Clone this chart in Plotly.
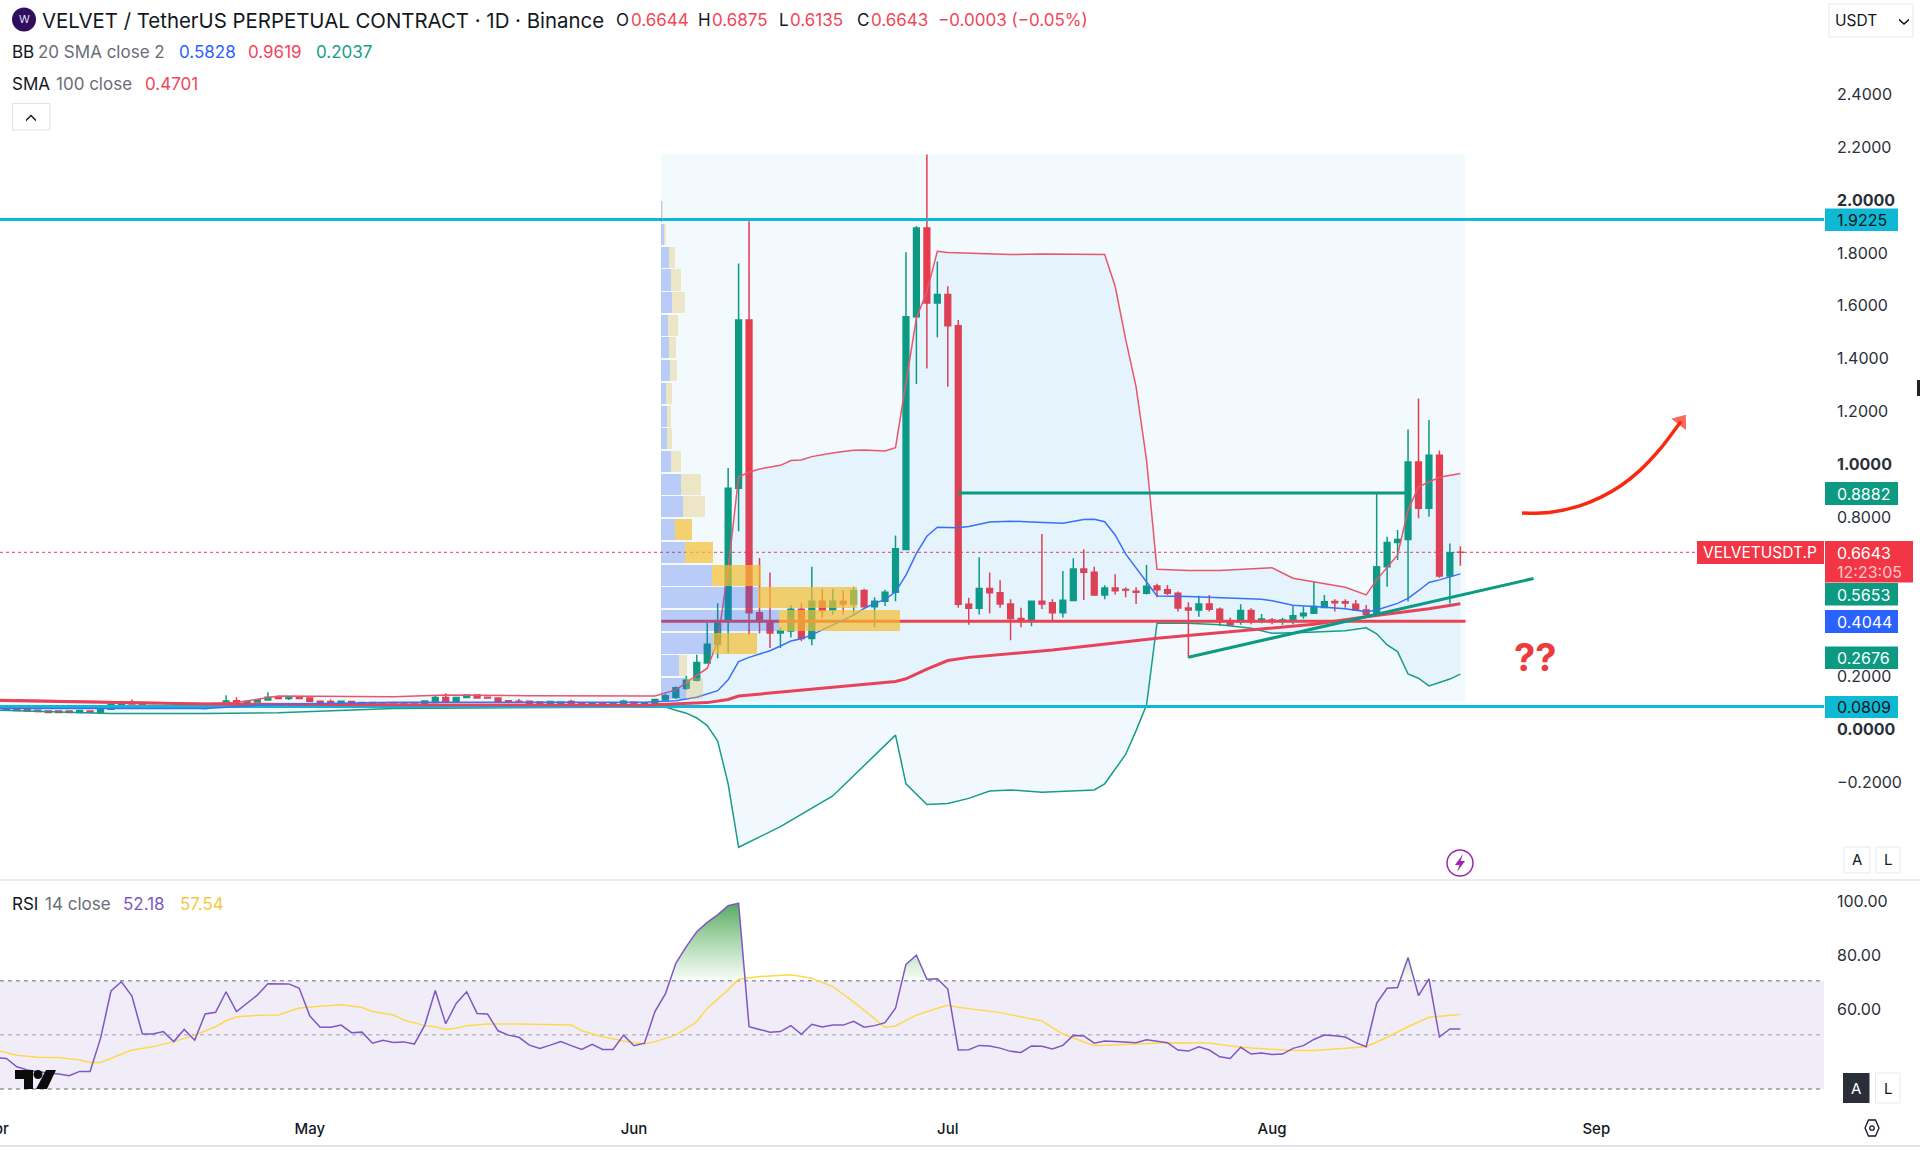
import numpy as np
import pandas as pd
import plotly.graph_objects as go

W, H = 1920, 1151
BASE = pd.Timestamp("2025-06-01")

# ---------- candles, one per day from 61 days before 1 Jun ----------
first_day = -61
opens = [.070,.072,.071,.069,.067,.064,.064,.064,.059,.064,
 .059,.071,.086,.096,.093,.085,.083,.084,.082,.084,
 .074,.083,.085,.103,.091,.098,.106,.116,.112,.116,
 .113,.101,.100,.095,.100,.091,.096,.088,.091,.087,
 .091,.090,.096,.115,.100,.115,.125,.116,.113,.103,
 .101,.101,.098,.091,.092,.100,.095,.091,.095,.090,
 .090,.097,.092,.089,
 .106,.116,.150,.181,.246,.317,.407,.906,1.543,.436,
 .403,.359,.367,.449,.338,.479,.446,.479,.469,.520,
 .458,.479,.513,.675,1.555,1.890,1.607,1.639,1.521,.468,
 .453,.527,.511,.469,.414,.407,.479,.474,.436,.482,
 .601,.589,.503,.529,.524,.517,.509,.537,.523,.509,
 .454,.446,.469,.449,.402,.402,.444,.406,.408,.406,
 .406,.424,.434,.456,.478,.477,.468,.446,.430,.610,
 .701,.713,1.006,.831,1.031,.575,.6644]
highs = [.072,.073,.072,.071,.069,.066,.066,.066,.067,.066,
 .073,.092,.103,.108,.096,.088,.086,.087,.086,.087,
 .090,.092,.124,.116,.102,.109,.135,.118,.119,.118,
 .115,.104,.108,.104,.102,.098,.098,.093,.094,.093,
 .094,.105,.124,.131,.117,.128,.127,.119,.115,.106,
 .110,.104,.100,.102,.101,.107,.097,.097,.097,.095,
 .107,.100,.097,.110,
 .129,.157,.197,.277,.397,.472,.983,1.756,1.916,.643,
 .588,.381,.465,.472,.610,.526,.526,.520,.534,.526,
 .494,.523,.728,1.799,1.898,2.168,1.764,1.670,1.543,.492,
 .646,.588,.559,.487,.455,.482,.733,.487,.594,.642,
 .676,.610,.540,.581,.532,.532,.616,.545,.541,.516,
 .475,.500,.503,.456,.417,.468,.453,.431,.416,.417,
 .461,.459,.556,.503,.487,.487,.484,.465,.887,.723,
 .749,1.129,1.246,1.164,1.049,.698,.6875]
lows = [.064,.066,.065,.063,.061,.058,.058,.058,.057,.058,
 .058,.069,.084,.088,.084,.082,.081,.080,.080,.081,
 .073,.081,.083,.090,.089,.097,.104,.112,.106,.111,
 .098,.093,.094,.093,.092,.089,.090,.086,.089,.086,
 .089,.088,.094,.098,.098,.113,.112,.112,.100,.100,
 .097,.090,.089,.089,.090,.089,.090,.089,.090,.088,
 .088,.090,.090,.087,
 .103,.110,.144,.176,.244,.264,.284,.744,.352,.357,
 .302,.302,.342,.328,.313,.417,.429,.429,.429,.455,
 .381,.461,.479,.675,1.301,1.359,1.477,1.290,.455,.390,
 .429,.433,.455,.332,.381,.385,.450,.408,.418,.482,
 .484,.499,.487,.505,.494,.469,.505,.494,.503,.440,
 .266,.421,.440,.386,.387,.390,.392,.396,.392,.390,
 .392,.413,.434,.456,.440,.455,.444,.424,.427,.534,
 .635,.478,.793,.799,.568,.471,.6135]
closes = [.067,.067,.066,.064,.062,.059,.059,.059,.066,.059,
 .071,.090,.093,.091,.085,.083,.084,.082,.084,.082,
 .087,.091,.102,.093,.100,.107,.116,.112,.116,.112,
 .100,.095,.095,.101,.093,.096,.091,.091,.090,.091,
 .090,.102,.115,.100,.115,.125,.113,.113,.101,.101,
 .098,.091,.091,.100,.098,.091,.091,.095,.091,.093,
 .101,.092,.095,.108,
 .122,.152,.181,.248,.317,.397,.906,1.543,.436,.403,
 .359,.367,.449,.338,.479,.443,.479,.469,.520,.458,
 .479,.513,.678,1.555,1.890,1.607,1.639,1.521,.468,.453,
 .527,.511,.469,.414,.407,.479,.469,.436,.483,.601,
 .589,.503,.529,.519,.522,.513,.536,.523,.509,.454,
 .446,.469,.449,.402,.390,.444,.402,.412,.403,.408,
 .424,.434,.459,.477,.474,.473,.446,.430,.610,.701,
 .713,1.006,.831,1.031,.575,.663,.6643]

rsi_values = [41.6,41.3,38.2,37.0,36.4,36.0,35.5,34.9,36.5,36.5,48.7,66.2,69.6,64.3,50.3,50.3,51.2,47.5,52.0,48.0,
 57.7,58.3,65.9,58.6,61.6,64.7,68.9,68.9,68.8,67.2,57.0,52.8,52.8,53.6,50.8,51.0,46.9,48.0,47.2,47.4,
 46.6,53.6,66.4,54.1,61.6,65.9,57.9,57.7,51.5,49.9,49.1,46.2,45.0,46.2,47.5,46.0,44.6,46.5,44.6,44.6,
 49.9,46.0,46.9,58.6,65.1,76.4,82.6,88.1,91.5,94.3,97.7,98.6,53.0,52.0,51.0,51.2,53.4,50.2,53.9,52.9,
 53.6,53.6,55.0,52.8,53.4,54.5,59.8,76.0,79.4,70.5,70.7,66.9,44.4,
 44.5,46.1,45.9,45.1,43.9,43.5,45.9,45.8,44.8,46.1,49.8,49.6,46.9,47.7,47.5,47.4,47.1,48.2,47.7,47.1,
 44.4,44.0,45.6,44.4,41.9,41.3,45.4,42.9,43.3,42.7,42.9,45.0,46.0,48.3,49.9,49.7,49.2,47.1,45.6,61.6,
 67.2,67.5,78.6,64.5,70.7,49.2,52.2,52.18]

# ---------- indicator vertices: day offset from 1 Jun, value ----------
rsi_ma_days = [-61,-59,-57,-55,-53,-52,-51,-50,-48,-46,-44,-42,-40,-39,-38,-36,-34,-33,-32,-30,-28,-26,-25,-23,-22,-20,-19,-18,-17,-16,-14,-11,-6,-5,-3,-1,1,2,4,6,7,9,10,12,15,17,19,21,23,24,25,27,29,30,31,35,39,41,44,49,51,55,57,59,63,65,70,72,74,76,79]
rsi_ma_vals = [44.4,42.5,41.7,41.6,40.7,39.8,39.8,41.3,44.4,45.6,47.5,49.9,53.0,55.2,56.7,57.2,57.3,58.6,59.9,60.6,61.1,60.1,58.6,57.3,55.5,53.4,53.0,52.0,52.4,53.4,54.0,54.0,53.6,51.5,49.3,47.7,46.6,47.5,49.9,54.9,59.8,66.6,70.5,71.5,72.2,70.9,67.8,62.2,56.1,52.8,53.3,57.3,59.8,60.9,60.2,58.2,55.1,50.3,46.0,46.6,47.1,47.0,45.9,45.1,44.2,44.2,45.6,49.1,53.0,56.5,57.54]

bb_upper_days = [-61,-41,-38,-34,-23,-18,-10,1,2,4,6,7,8,9,10,11,12,13,14,15,16,17,18,19,20,21,22,23,24,25,26,27,28,29,30,33,36,39,45,46,47,48,49,50,53,56,61,63,68,70,71,73,74,75,76,77,79]
bb_upper_vals = [.108,.093,.096,.121,.118,.125,.122,.121,.121,.144,.200,.226,.328,.600,.950,.967,.979,.986,.993,1.011,1.013,1.026,1.034,1.040,1.045,1.050,1.051,1.050,1.047,1.060,1.297,1.550,1.650,1.802,1.798,1.793,1.790,1.792,1.790,1.670,1.470,1.290,1.013,.600,.595,.595,.606,.566,.532,.503,.560,.654,.824,.912,.931,.948,.9619]
bb_basis_days = [-61,-41,-34,-23,1,4,6,8,9,10,11,12,13,14,15,16,17,18,21,22,23,24,25,26,27,28,29,31,32,34,36,38,41,43,44,45,46,47,48,49,50,53,56,60,61,63,65,68,70,71,73,74,75,76,77,79]
bb_basis_vals = [.074,.074,.090,.097,.097,.103,.116,.141,.182,.251,.267,.280,.292,.310,.329,.337,.352,.371,.427,.452,.471,.486,.515,.578,.660,.725,.759,.757,.762,.779,.782,.779,.774,.788,.789,.780,.730,.658,.604,.553,.499,.497,.493,.487,.481,.464,.459,.451,.440,.446,.471,.490,.519,.550,.560,.5828]
bb_lower_days = [-61,-50,-41,-34,-23,2,3,4,5,6,7,8,9,10,14,19,25,26,27,28,30,32,34,36,39,42,44,45,47,48,49,50,53,56,59,61,64,68,70,71,72,73,74,75,76,77,78,79]
bb_lower_vals = [.068,.055,.055,.058,.074,.080,.079,.067,.056,.038,.009,-.049,-.211,-.451,-.373,-.257,-.027,-.211,-.250,-.289,-.285,-.266,-.238,-.234,-.243,-.238,-.234,-.211,-.100,-.010,.087,.396,.396,.390,.377,.358,.361,.368,.379,.356,.314,.289,.204,.188,.159,.172,.185,.2037]
sma_days = [-61,-41,-18,1,7,9,10,25,26,28,30,32,40,50,65,70,76,79]
sma_vals = [.104,.091,.087,.086,.096,.108,.121,.176,.186,.223,.255,.267,.295,.339,.392,.421,.451,.4701]

# ---------- drawn levels and tools ----------
level_high, level_low = 1.9225, 0.0809
res_level, res_days = 0.8882, [31, 74]
trend_days, trend_vals = [53, 86], [0.2676, 0.5653]
poc_level, profile_days = 0.4034, [2.6, 79.5]
box_top, box_bottom = 2.168, 0.0994
last_price = 0.6643
arrow_days = [84.9, 87.5, 90.4, 92.4, 94.3, 96.2, 98.1, 100.1]
arrow_vals = [.8125, .815, .840, .872, .915, .975, 1.055, 1.160]

# ---------- volume profile, bottom row first ----------
row_prices = [.149,.235,.321,.407,.492,.578,.664,.750,.836,.922,1.007,1.093,1.179,1.265,1.351,1.437,1.523,1.608,1.694,1.780,1.866,1.952]
row_buy = [24.7,18.3,52.3,118,97,51,24,14,22,20.3,9.7,5.7,5.7,5,9,8,7.3,11.3,10.3,8.3,2.7,1]
row_sell = [17,8,44,120.7,99.3,49,27.7,17,21.7,19.7,10.7,5.3,4.7,6,7.3,7,9.7,13,9.3,5.3,2.3,.5]
value_area = [False,False,True,True,True,True,True,True,False,False,False,False,False,False,False,False,False,False,False,False,False,False]

price_ticks = [2.4,2.2,2.0,1.8,1.6,1.4,1.2,1.0,.8,.6,.4,.2,0.0,-.2]
price_labels = ["2.4000","2.2000","<b>2.0000</b>","1.8000","1.6000","1.4000","1.2000","<b>1.0000</b>","0.8000","","","0.2000","<b>0.0000</b>","−0.2000"]
rsi_ticks = [100, 80, 60]
rsi_labels = ["100.00", "80.00", "60.00"]
month_dates = ["2025-04-01","2025-05-01","2025-06-01","2025-07-01","2025-08-01","2025-09-01"]
month_labels = ["Apr","May","Jun","Jul","Aug","Sep"]

GREEN, RED, BLUE, CYAN = "#0c9a82", "#e83c4e", "#2962ff", "#0fb9d4"
FONT = "Inter"
INK = "#131722"

def to_dates(days):
    return [BASE + pd.Timedelta(days=float(d)) for d in days]

candle_days = np.arange(first_day, first_day + len(closes))
assert len(opens) == len(highs) == len(lows) == len(closes) == len(rsi_values) == 141
dates = to_dates(candle_days)

PANE_R = 1824
x_range = to_dates([-634 / 10.46, (PANE_R - 634) / 10.46])
range_all = x_range

fig = go.Figure()

# Bollinger fill and lines
fig.add_trace(go.Scatter(x=to_dates(bb_lower_days), y=bb_lower_vals, mode="lines", line=dict(color="#169c88", width=1.5)))
fig.add_trace(go.Scatter(x=to_dates(bb_upper_days), y=bb_upper_vals, mode="lines", line=dict(color="#e9566a", width=1.5),
                         fill="tonexty", fillcolor="rgba(33,150,243,0.06)"))
# horizontal levels
for lv in (level_high, level_low):
    fig.add_trace(go.Scatter(x=range_all, y=[lv, lv], mode="lines", line=dict(color=CYAN, width=3)))
fig.add_trace(go.Scatter(x=to_dates(profile_days), y=[poc_level, poc_level], mode="lines", line=dict(color="#e8434f", width=3)))
fig.add_trace(go.Scatter(x=to_dates(sma_days), y=sma_vals, mode="lines", line=dict(color="#e8415a", width=3)))
fig.add_trace(go.Scatter(x=to_dates(bb_basis_days), y=bb_basis_vals, mode="lines", line=dict(color="#3a70f5", width=1.5)))
# candles
fig.add_trace(go.Candlestick(x=dates, open=opens, high=highs, low=lows, close=closes,
                             increasing=dict(line=dict(color=GREEN, width=1.5), fillcolor=GREEN),
                             decreasing=dict(line=dict(color=RED, width=1.5), fillcolor=RED),
                             whiskerwidth=0))
# tools
fig.add_trace(go.Scatter(x=to_dates(res_days), y=[res_level, res_level], mode="lines", line=dict(color=GREEN, width=3)))
fig.add_trace(go.Scatter(x=to_dates(trend_days), y=trend_vals, mode="lines", line=dict(color=GREEN, width=3)))
fig.add_trace(go.Scatter(x=to_dates(arrow_days), y=arrow_vals, mode="lines+markers", line=dict(color="#f72a10", width=3.5, shape="spline", smoothing=0.8),
                         marker=dict(symbol="triangle-up", angleref="previous", color="#f72a10",
                                     size=[0]*7 + [16], line=dict(width=0))))
# volume profile on an overlaying value axis
sell_colors = ["rgba(245,190,50,0.7)" if v else "rgba(225,190,90,0.33)" for v in value_area]
fig.add_trace(go.Bar(orientation="h", y=row_prices, x=row_buy, width=.080, xaxis="x3", yaxis="y",
                     marker=dict(color="rgba(50,100,235,0.3)", line=dict(width=0))))
fig.add_trace(go.Bar(orientation="h", y=row_prices, x=row_sell, width=.080, xaxis="x3", yaxis="y",
                     marker=dict(color=sell_colors, line=dict(width=0))))

# RSI pane
rd = np.array(candle_days, float)
rv = np.array(rsi_values, float)
seg = []
def flush(seg):
    if len(seg) >= 2:
        xs = [s[0] for s in seg]
        ys = [s[1] for s in seg]
        fig.add_trace(go.Scatter(x=to_dates(xs), y=ys, xaxis="x2", yaxis="y2", mode="none", fill="toself",
                                 fillgradient=dict(type="vertical", start=100, stop=70,
                                                   colorscale=[[0, "rgba(46,150,60,0.85)"], [1, "rgba(76,175,80,0.04)"]])))
for i in range(1, len(rv)):
    a, b = rv[i-1], rv[i]
    if a <= 70 < b:
        seg = [(rd[i-1] + (70-a)/(b-a), 70.0), (rd[i], b)]
    elif a > 70 and b > 70:
        seg.append((rd[i], b))
    elif a > 70 >= b:
        seg.append((rd[i-1] + (a-70)/(a-b), 70.0))
        flush(seg)
        seg = []
fig.add_trace(go.Scatter(x=to_dates(rsi_ma_days), y=rsi_ma_vals, xaxis="x2", yaxis="y2", mode="lines",
                         line=dict(color="#fdd94e", width=1.5)))
fig.add_trace(go.Scatter(x=dates, y=rsi_values, xaxis="x2", yaxis="y2", mode="lines", line=dict(color="#7e57c2", width=1.5)))

def fx(p): return p / W
def fy(p): return 1 - p / H

shapes = [
    dict(type="rect", xref="x", yref="y", x0=to_dates([profile_days[0]])[0], x1=to_dates([profile_days[1]])[0],
         y0=box_bottom, y1=box_top, fillcolor="rgba(0,160,220,0.05)", line=dict(width=0), layer="below"),
    dict(type="line", xref="paper", yref="y", x0=0, x1=fx(1697), y0=last_price, y1=last_price,
         line=dict(color=RED, width=1, dash="dot"), layer="below"),
    dict(type="rect", xref="x2 domain", yref="y2", x0=0, x1=1, y0=30, y1=70, fillcolor="rgba(126,87,194,0.11)", line=dict(width=0), layer="below"),
    dict(type="line", xref="x2 domain", yref="y2", x0=0, x1=1, y0=70, y1=70, line=dict(color="#9a99a3", width=1.5, dash="4px,4px"), layer="below"),
    dict(type="line", xref="x2 domain", yref="y2", x0=0, x1=1, y0=50, y1=50, line=dict(color="#bdbcc6", width=1.5, dash="4px,4px"), layer="below"),
    dict(type="line", xref="x2 domain", yref="y2", x0=0, x1=1, y0=30, y1=30, line=dict(color="#9a99a3", width=1.5, dash="4px,4px"), layer="below"),
    dict(type="line", xref="paper", yref="paper", x0=0, x1=1, y0=fy(880), y1=fy(880), line=dict(color="#e0e3eb", width=1.5)),
    dict(type="line", xref="paper", yref="paper", x0=0, x1=1, y0=fy(1146), y1=fy(1146), line=dict(color="#e0e3eb", width=2)),
]

def box(x0, y0, x1, y1, fill="white", line=None, lw=1):
    shapes.append(dict(type="rect", xref="paper", yref="paper", x0=fx(x0), x1=fx(x1), y0=fy(y0), y1=fy(y1),
                       fillcolor=fill, line=dict(color=line, width=lw) if line else dict(width=0), layer="above"))

def path(d, fill=None, line=None, lw=1):
    s = "M" + " L".join(f"{fx(x):.5f},{fy(y):.5f}" for x, y in d) + " Z"
    shapes.append(dict(type="path", xref="paper", yref="paper", path=s, fillcolor=fill,
                       line=dict(color=line, width=lw) if line else dict(width=0), layer="above"))

def circle(cx, cy, r, fill=None, line=None, lw=1):
    shapes.append(dict(type="circle", xref="paper", yref="paper", x0=fx(cx-r), x1=fx(cx+r), y0=fy(cy-r), y1=fy(cy+r),
                       fillcolor=fill, line=dict(color=line, width=lw) if line else dict(width=0), layer="above"))

annots = []
def text(x, y, t, size=16, color=INK, anchor="left", weight=None):
    f = dict(family=FONT, size=size, color=color)
    if weight: f["weight"] = weight
    annots.append(dict(xref="paper", yref="paper", x=fx(x), y=fy(y), text=t, showarrow=False, xanchor=anchor, yanchor="middle",
                       font=f, align="left", borderpad=0, borderwidth=0))

GRAY = "#6a6d78"
LBL = "#f0455a"
# header
circle(24, 19.5, 12, fill="#2d0f5e")
text(24, 19.5, "W", size=11, color="#e8ddff", anchor="center")
text(42, 20, "VELVET / TetherUS PERPETUAL CONTRACT · 1D · Binance", size=20.4)
for x_pos, t, c in [(616, "O", INK), (631, "0.6644", LBL), (698, "H", INK), (712, "0.6875", LBL),
                    (779, "L", INK), (790, "0.6135", LBL), (857, "C", INK), (871, "0.6643", LBL),
                    (938, "−0.0003 (−0.05%)", LBL)]:
    text(x_pos, 20, t, size=17, color=c)
# BB row
text(12, 52, "BB", size=17)
text(38, 52, "20 SMA close 2", size=17, color=GRAY)
text(179, 52, "0.5828", size=17, color=BLUE)
text(248, 52, "0.9619", size=17, color=LBL)
text(316, 52, "0.2037", size=17, color="#16a085")
# SMA row
text(12, 84, "SMA", size=17)
text(56, 84, "100 close", size=17, color=GRAY)
text(145, 84, "0.4701", size=17, color=LBL)
box(12.5, 103.5, 50, 130, line="#e0e3eb")
path([(26, 119.5), (31, 114.5), (36, 119.5), (36, 121.5), (31, 116.5), (26, 121.5)], fill=INK)
# currency selector
box(1829, 4, 1913, 37, line="#e8e9ee")
text(1835, 20.5, "USDT", size=15.5)
path([(1899, 18.5), (1904, 23), (1909, 18.5), (1909, 20.5), (1904, 25), (1899, 20.5)], fill=INK)
# cursor sliver at the right edge
box(1917, 380, 1920, 396, fill="#222222")

def pricetag(y0, y1, fill, t, color="white", x1=1898):
    box(1825, y0, x1, y1, fill=fill)
    text(1837, (y0+y1)/2 + 0.5, t, size=16, color=color)
pricetag(208.5, 231, CYAN, "1.9225", color=INK)
pricetag(482, 505, GREEN, "0.8882")
box(1697, 541, 1824, 564, fill="#f23645")
text(1703, 553, "VELVETUSDT.P", size=15.5, color="white")
box(1825, 541, 1913, 582.5, fill="#f23645")
text(1837, 553, "0.6643", size=16, color="white")
text(1837, 572, "12:23:05", size=16, color="#fbc5ca")
pricetag(583, 605.5, GREEN, "0.5653")
pricetag(610, 633, BLUE, "0.4044")
pricetag(646.5, 669, GREEN, "0.2676")
pricetag(696, 718, CYAN, "0.0809", color=INK)

# question marks
text(1535, 657, "??", size=38, color="#ee3a3c", anchor="center", weight=700)

# lightning badge
circle(1460, 863, 13, line="#9c27b0", lw=1.5, fill="white")
path([(1463, 854), (1455, 865), (1459.5, 865), (1457, 872), (1465, 861), (1460.5, 861)], fill="#9c27b0")

# A / L buttons, main pane
box(1844, 847, 1870, 873, line="#e8e9ee")
text(1857, 860, "A", size=15, anchor="center")
box(1876, 847, 1900, 873, line="#e8e9ee")
text(1888, 860, "L", size=15, anchor="center")
# A / L buttons, RSI pane
box(1843, 1073, 1869.5, 1103, fill="#2a2e39")
text(1856, 1088, "A", size=15, color="white", anchor="center")
box(1875.5, 1073, 1900, 1103, line="#e8e9ee")
text(1888, 1088, "L", size=15, anchor="center")

# RSI header
text(12, 903.5, "RSI", size=17)
text(45, 903.5, "14 close", size=17, color=GRAY)
text(123, 903.5, "52.18", size=17, color="#7e57c2")
text(180, 903.5, "57.54", size=17, color="#f5c842")

# TradingView mark
path([(15, 1070), (33, 1070), (33, 1089), (24, 1089), (24, 1079), (15, 1079)], fill="#0b0b0e")
circle(38, 1074.5, 4.5, fill="#0b0b0e")
path([(46, 1070), (56, 1070), (47, 1089), (36, 1089)], fill="#0b0b0e")

# gear icon
path([(1865, 1128), (1868.5, 1120), (1875.5, 1120), (1879, 1128), (1875.5, 1136), (1868.5, 1136)], line=INK, lw=1.3)
circle(1872, 1128, 2.2, line=INK, lw=1.3)

# partly cropped first month label
text(-4, 1128, "Apr", size=15, anchor="center", weight=500)

fig.update_layout(
    width=W, height=H, autosize=False, margin=dict(l=0, r=0, t=0, b=0),
    paper_bgcolor="white", plot_bgcolor="white", showlegend=False, hovermode=False,
    barmode="stack", boxgap=0.22,
    font=dict(family=FONT, size=16, color=INK),
    xaxis=dict(domain=[0, PANE_R / W], range=x_range, anchor="y", showgrid=False, zeroline=False, showline=False,
               showticklabels=False, ticks="", rangeslider=dict(visible=False)),
    yaxis=dict(domain=[fy(879), 1], range=[(728 - 879) / 264.5, 728 / 264.5], anchor="x", side="right", showgrid=False,
               zeroline=False, showline=False, tickmode="array", tickvals=price_ticks, ticktext=price_labels,
               ticks="", ticklabelstandoff=12, ticklabelshift=1, tickfont=dict(family=FONT, size=16, color="#2b2f3a")),
    xaxis2=dict(domain=[0, PANE_R / W], range=x_range, anchor="y2", showgrid=False, zeroline=False, showline=False,
                tickmode="array", tickvals=month_dates, ticktext=month_labels, ticks="", ticklabelstandoff=10,
                tickfont=dict(family=FONT, size=15, color=INK, weight=500)),
    yaxis2=dict(domain=[fy(1108), fy(881)], range=[30 + (1089 - 1108) / 2.708, 30 + (1089 - 881) / 2.708], anchor="x2", side="right",
                showgrid=False, zeroline=False, showline=False, tickmode="array", tickvals=rsi_ticks, ticktext=rsi_labels,
                ticks="", ticklabelstandoff=12, ticklabelshift=2, tickfont=dict(family=FONT, size=16, color="#2b2f3a")),
    xaxis3=dict(overlaying="x", domain=[0, PANE_R / W], range=[-661, PANE_R - 661], anchor="y", visible=False),
    shapes=shapes, annotations=annots,
)

fig.write_html("out.html", config=dict(displayModeBar=False),
               post_script="document.body.style.margin='0';document.documentElement.style.overflow='hidden';")
